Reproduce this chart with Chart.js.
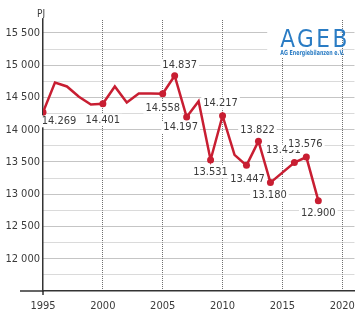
<!DOCTYPE html>
<html>
<head>
<meta charset="utf-8">
<script src="https://cdn.jsdelivr.net/npm/chart.js@4.4.1/dist/chart.umd.min.js"></script>
<style>
  html, body { margin: 0; padding: 0; background: #fff; }
</style>
</head>
<body>
<canvas id="chart" width="364" height="322"></canvas>
<script>
// Primärenergieverbrauch in Deutschland (PJ)
const years = [1995, 1996, 1997, 1998, 1999, 2000, 2001, 2002, 2003, 2004, 2005, 2006,
               2007, 2008, 2009, 2010, 2011, 2012, 2013, 2014, 2016, 2017, 2018];
const values = [14269, 14730, 14670, 14510, 14390, 14401, 14670, 14420, 14560, 14560, 14558, 14837,
                14197, 14440, 13531, 14217, 13610, 13447, 13822, 13180, 13491, 13576, 12900];
const labelledYears = [1995, 2000, 2005, 2006, 2007, 2009, 2010, 2012, 2013, 2014, 2016, 2017, 2018];
const yTicks = [12000, 12500, 13000, 13500, 14000, 14500, 15000, 15500];
const xTicks = [1995, 2000, 2005, 2010, 2015, 2020];
const unit = 'PJ';

const RED = '#c81e32';
const TXT = '#3b3b3b';
const BLUE = '#2a7cc4';
const FONT = "'Liberation Sans Narrow', 'DejaVu Sans Condensed', 'Arial Narrow', sans-serif";

// where each value label sits relative to its point
const labelOffset = {
  1995: [16, 9], 2000: [0, 16], 2005: [0, 14], 2006: [5, -11], 2007: [-6, 10],
  2009: [0, 12], 2010: [-2, -13], 2012: [1, 14], 2013: [-1, -11], 2014: [-1, 13],
  2016: [-11, -12], 2017: [-1, -13], 2018: [0, 12]
};

function fmtDot(v) { return String(v).replace(/\B(?=(\d{3})+(?!\d))/g, '.'); }
function fmtSpace(v) { return String(v).replace(/\B(?=(\d{3})+(?!\d))/g, ' '); }

const decor = {
  id: 'decor',
  beforeDatasetsDraw(chart) {
    const { ctx, chartArea: a } = chart;
    const meta = chart.getDatasetMeta(0);
    ctx.save();
    // logo background
    ctx.fillStyle = '#fff';
    ctx.fillRect(a.right - 87, a.top - 2, 73, 40);

    // value labels
    ctx.font = '11px ' + FONT;
    ctx.textAlign = 'center';
    ctx.textBaseline = 'middle';
    meta.data.forEach((pt, i) => {
      const yr = years[i];
      if (!labelledYears.includes(yr)) return;
      const [dx, dy] = labelOffset[yr];
      const txt = fmtDot(values[i]);
      const w = ctx.measureText(txt).width;
      ctx.fillStyle = '#fff';
      ctx.fillRect(pt.x + dx - w / 2 - 2, pt.y + dy - 6, w + 4, 12);
      ctx.fillStyle = TXT;
      ctx.fillText(txt, pt.x + dx, pt.y + dy);
    });
    ctx.restore();
  },
  afterDraw(chart) {
    const { ctx, chartArea: a } = chart;
    ctx.save();
    // axis line runs on to the left, small tick at 1995
    ctx.strokeStyle = '#333';
    ctx.lineWidth = 1.5;
    ctx.beginPath();
    ctx.moveTo(a.left - 23, a.bottom);
    ctx.lineTo(a.left, a.bottom);
    ctx.moveTo(a.left, a.bottom);
    ctx.lineTo(a.left, a.bottom + 4);
    ctx.stroke();

    // unit
    ctx.fillStyle = TXT;
    ctx.font = '10px ' + FONT;
    ctx.textAlign = 'center';
    ctx.textBaseline = 'middle';
    ctx.fillText(unit, a.left - 2, 14);

    // logo
    ctx.fillStyle = BLUE;
    ctx.textAlign = 'left';
    ctx.textBaseline = 'alphabetic';
    ctx.font = '24px ' + FONT;
    ctx.letterSpacing = '2.5px';
    ctx.fillText('AGEB', a.right - 74, a.top + 27);
    ctx.letterSpacing = '0px';
    ctx.font = 'bold 7px ' + FONT;
    ctx.textBaseline = 'middle';
    ctx.fillText('AG Energiebilanzen e.V.', a.right - 74, a.top + 33, 64);
    ctx.restore();
  }
};

new Chart(document.getElementById('chart'), {
  type: 'line',
  data: {
    labels: years,
    datasets: [{
      data: years.map((y, i) => ({ x: y, y: values[i] })),
      borderColor: RED,
      backgroundColor: RED,
      borderWidth: 2.5,
      tension: 0,
      pointRadius: ctx => labelledYears.includes(years[ctx.dataIndex]) ? 3.5 : 0,
      pointBorderWidth: 0,
      pointBackgroundColor: RED
    }]
  },
  options: {
    responsive: false,
    animation: false,
    layout: { padding: { top: 20, right: 2, left: 0, bottom: 0 } },
    plugins: { legend: { display: false }, tooltip: { enabled: false } },
    scales: {
      x: {
        type: 'linear',
        min: 1995,
        max: 2021,
        afterBuildTicks: s => { s.ticks = xTicks.map(v => ({ value: v })); },
        afterFit: s => { s.height = 31; },
        grid: {
          drawTicks: false,
          color: ctx => ctx.tick && ctx.tick.value === 1995 ? 'rgba(0,0,0,0)' : '#707070',
          lineWidth: 1
        },
        border: { color: '#333', width: 1.5, dash: [1, 1] },
        ticks: {
          color: TXT,
          font: { family: FONT, size: 11 },
          padding: 9,
          maxRotation: 0,
          autoSkip: false,
          callback: v => String(v)
        }
      },
      y: {
        min: 11500,
        max: 15700,
        afterBuildTicks: s => {
          const t = [];
          for (let v = 11750; v <= 15500; v += 250) t.push({ value: v });
          s.ticks = t;
        },
        afterFit: s => { s.width = 43; },
        grid: {
          drawTicks: false,
          color: ctx => ctx.tick && ctx.tick.value % 500 === 0 ? '#8a8a8a' : '#b4b4b4',
          lineWidth: 1
        },
        border: { color: '#333', width: 1.5, dash: [1, 1] },
        ticks: {
          color: TXT,
          font: { family: FONT, size: 11 },
          padding: 3,
          autoSkip: false,
          callback: v => yTicks.includes(v) ? fmtSpace(v) : ''
        }
      }
    }
  },
  plugins: [decor]
});
</script>
</body>
</html>
